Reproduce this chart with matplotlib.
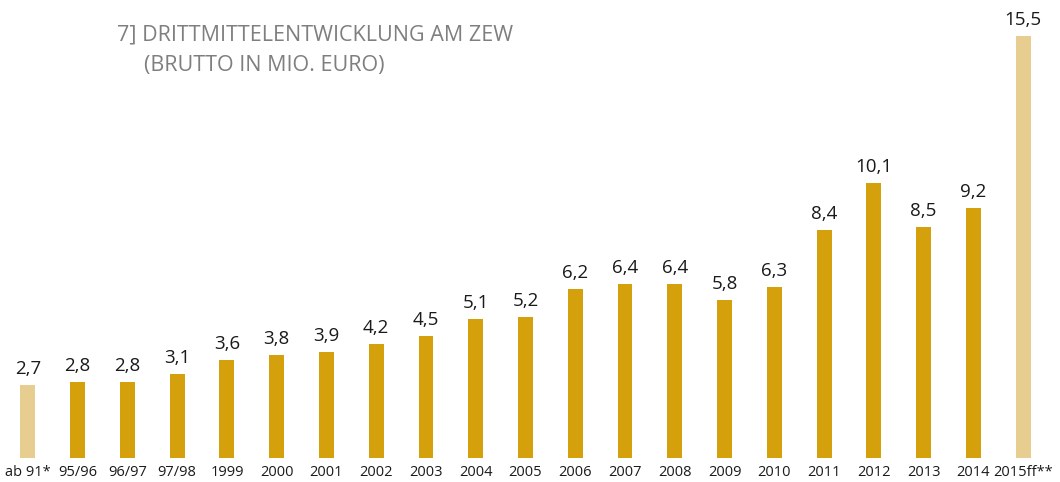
import matplotlib

matplotlib.use("Agg")

import matplotlib.pyplot as plt

categories = ["ab 91*", "95/96", "96/97", "97/98", "1999", "2000", "2001", "2002", "2003",
              "2004", "2005", "2006", "2007", "2008", "2009", "2010", "2011", "2012",
              "2013", "2014", "2015ff**"]
values = [2.7, 2.8, 2.8, 3.1, 3.6, 3.8, 3.9, 4.2, 4.5, 5.1, 5.2, 6.2, 6.4, 6.4, 5.8, 6.3,
          8.4, 10.1, 8.5, 9.2, 15.5]
estimated = [True] + [False] * 19 + [True]

DARK = "#D4A00C"
LIGHT = "#E8CD91"

plt.rcParams["font.family"] = ["Open Sans", "DejaVu Sans"]

fig = plt.figure(figsize=(10.6, 4.82), dpi=100)
ax = fig.add_axes([3 / 1060, 24 / 482, 1045 / 1060, 16 * 27.2 / 482])

x = list(range(len(categories)))
colors = [LIGHT if e else DARK for e in estimated]
ax.bar(x, values, width=0.3, color=colors)

for xi, v in zip(x, values):
    ax.annotate(f"{v:.1f}".replace(".", ","), (xi, v), xytext=(0, 5),
                textcoords="offset points", ha="center", va="bottom",
                fontsize=13.5, color="#1a1a1a")

ax.set_xlim(-0.5, 20.5)
ax.set_ylim(0, 16)
ax.set_xticks(x)
ax.set_xticklabels(categories, fontsize=10.5, color="#1a1a1a")
ax.tick_params(axis="x", length=0, pad=5)
ax.set_yticks([])
for s in ax.spines.values():
    s.set_visible(False)

fig.text(117 / 1060, 1 - 41 / 482, "7] DRITTMITTELENTWICKLUNG AM ZEW", fontsize=15.5,
         color="#7f7f7f", ha="left", va="baseline")
fig.text(144 / 1060, 1 - 71 / 482, "(BRUTTO IN MIO. EURO)", fontsize=15.5,
         color="#7f7f7f", ha="left", va="baseline")

fig.savefig("out.png", dpi=100)
